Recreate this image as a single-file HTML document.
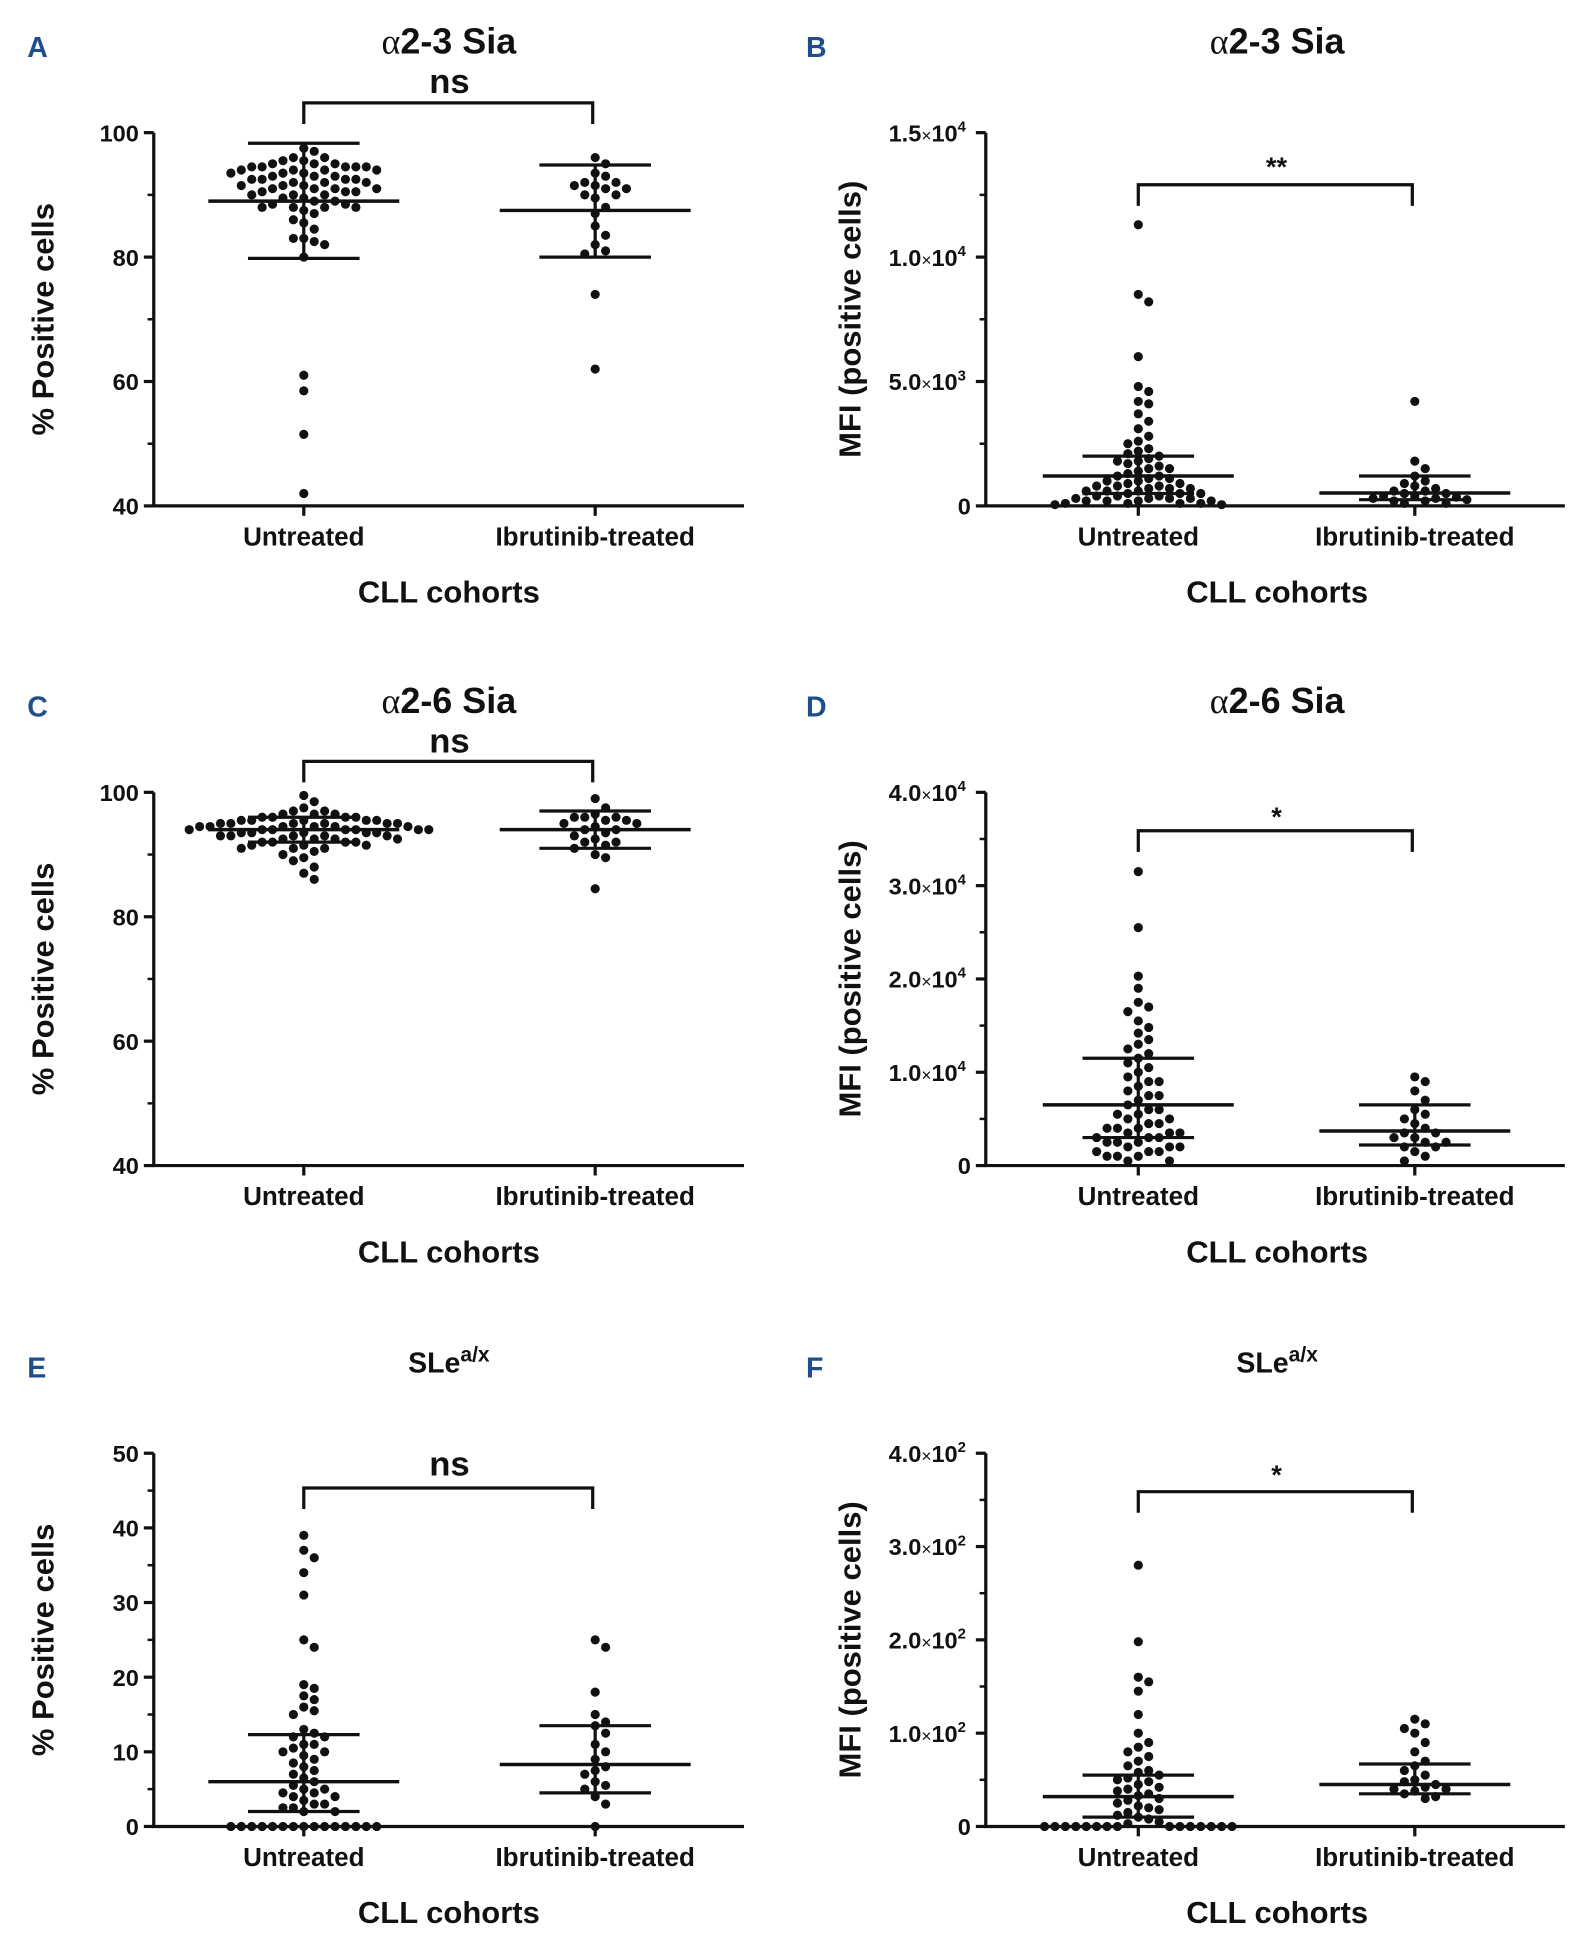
<!DOCTYPE html>
<html><head><meta charset="utf-8"><style>
html,body{margin:0;padding:0;background:#fff}
svg{display:block}
text{font-family:"Liberation Sans",sans-serif;font-weight:bold;fill:#111}
</style></head><body>
<svg id="fig" width="1576" height="1946" viewBox="0 0 1271 1569.4" xmlns="http://www.w3.org/2000/svg"></svg>
<script>
// ---- data ----
const categories = ["Untreated","Ibrutinib-treated"];
const aUnt = [97.5,97,96,96,95.5,95.5,95,95,95,94.5,94.5,94.5,94.5,94.5,94,94,94,94,93.5,93.5,93.5,93,93,93,92.5,92.5,92.5,92.5,92,92,92,91.5,91.5,91.5,91,91,91,91,90.5,90.5,90.5,90,90,90,89.5,89.5,89,89,88.5,88.5,88,88,88,88,87.5,87,86,85.5,84.5,83,83,82.5,82,80,61,58.5,51.5,42];
const aIbr = [96,95,93.5,93,92,92,91.5,91.5,91,91,90,90,89.5,88,87,85,83.5,82,81,80.5,74,62];
const aStats = [[89,79.8,98.3],[87.5,80,94.8]];
const bUnt = [11300,8500,8200,6000,4800,4600,4200,4100,3700,3400,3100,2800,2600,2500,2300,2200,2100,2000,1900,1800,1800,1700,1600,1500,1500,1400,1300,1200,1200,1100,1100,1000,1000,900,900,800,800,800,700,700,700,600,600,600,500,500,500,400,400,400,300,300,300,300,200,200,200,200,100,100,100,100,50,50];
const bIbr = [4200,1800,1500,1200,1000,900,800,700,600,600,500,500,400,400,350,300,300,250,200,200,100,100];
const bStats = [[1200,500,2000],[520,250,1200]];
const cUnt = [99.5,98.5,97.5,97,97,96.5,96.5,96.5,96,96,96,96,95.5,95.5,95.5,95.5,95.5,95,95,95,95,95,95,94.5,94.5,94.5,94.5,94.5,94.5,94,94,94,94,94,94,94,93.5,93.5,93.5,93.5,93.5,93,93,93,93,93,92.5,92.5,92.5,92.5,92,92,92,92,91.5,91.5,91.5,91,91,91,90.5,90,89.5,89,88,87,86];
const cIbr = [99,97.5,96.5,96,96,96,95.5,95.5,95,95,94.5,94,94,93.5,93,92.5,92,92,91.5,91,90,89.5,84.5];
const cStats = [[94,92,96],[94,91,97]];
const dUnt = [31500,25500,20300,19000,17500,17000,16500,15500,14800,14200,13500,13000,12500,12000,11500,11000,10500,10000,9500,9000,9000,8500,8000,7500,7500,7000,6500,6000,6000,5500,5500,5000,5000,4500,4500,4000,4000,4000,3500,3500,3500,3000,3000,3000,2500,2500,2500,2000,2000,2000,1500,1500,1500,1000,1000,1000,500,500];
const dIbr = [9500,9000,8000,7000,6000,5500,5000,4500,4000,3500,3500,3000,3000,2500,2500,2000,2000,1500,1000,500];
const dStats = [[6500,3000,11500],[3700,2200,6500]];
const eUnt = [39,37,36,34,31,25,24,19,18.5,17.5,17,16,15.5,15,13,12.5,12,12,11,11,10.5,10,10,9.5,9,8.5,8,7.5,7,6.5,6,5.5,5,5,4.5,4.5,4,4,3.5,3,3,2.5,2.5,2,2,0,0,0,0,0,0,0,0,0,0,0,0,0,0,0];
const eIbr = [25,24,18,15,14,13.5,12.5,11,10,9,8,7.5,7,6,5.5,5,4,3,0];
const eStats = [[6,2,12.3],[8.3,4.5,13.5]];
const fUnt = [280,198,160,155,145,120,100,90,85,80,75,70,65,60,58,55,52,50,48,45,42,40,38,35,33,30,28,25,22,20,18,15,12,10,8,5,3,0,0,0,0,0,0,0,0,0,0,0,0,0,0,0];
const fIbr = [115,110,105,100,90,80,70,65,60,55,50,48,45,42,40,40,38,35,32,30];
const fStats = [[32,10,55],[45,35,67]];
const pctTicks = [40,60,80,100];
const eTicks = [0,10,20,30,40,50];
const bTicks = [[0,"0"],[5000,"5.0","3"],[10000,"1.0","4"],[15000,"1.5","4"]];
const dTicks = [[0,"0"],[10000,"1.0","4"],[20000,"2.0","4"],[30000,"3.0","4"],[40000,"4.0","4"]];
const fTicks = [[0,"0"],[100,"1.0","2"],[200,"2.0","2"],[300,"3.0","2"],[400,"4.0","2"]];

const svg = document.getElementById('fig');
const NS = "http://www.w3.org/2000/svg";
function mk(tag, attrs, parent){const e=document.createElementNS(NS,tag);for(const k in attrs)e.setAttribute(k,attrs[k]);(parent||svg).appendChild(e);return e;}
function txt(s, x, y, size, anchor, parent){const t=mk('text',{x:x,y:y,'font-size':size,'text-anchor':anchor||'middle'},parent);t.textContent=s;return t;}

function panel(o){
  const g = mk('g',{});
  
  
  const ax=o.ax, right=ax+o.w, yTop=o.yTop, yBot=yTop+301;
  const ys = v => yBot - (v-o.min)/(o.max-o.min)*(yBot-yTop);
  const cx=[ax+o.c1, ax+o.c2];
  const L = txt(o.letter, o.lx, o.yTop-75+14, 23, 'start', g);
  L.setAttribute('style','fill:#1f4e8c');
  
  
  const T = txt('', o.tx, o.titleY, o.titleSize||29, 'middle', g);
  
  
  if(o.sle){T.textContent='SLe';const s=document.createElementNS(NS,'tspan');s.setAttribute('dy','-9');s.setAttribute('font-size','17');s.textContent='a/x';T.appendChild(s);}
  else{
    const a=document.createElementNS(NS,'tspan');a.setAttribute('font-weight','normal');a.setAttribute('font-family','Liberation Serif, serif');a.textContent='α';T.appendChild(a);
    const r=document.createElementNS(NS,'tspan');r.textContent=o.title;T.appendChild(r);
  }
  const axes = mk('path',{d:`M${ax},${yTop} V${yBot} H${right}`,stroke:'#111','stroke-width':2.6,fill:'none'},g);
  
  
  o.ticks.forEach((t,i)=>{
    const v = Array.isArray(t)?t[0]:t;
    const y = ys(v);
    mk('line',{x1:ax-8,x2:ax,y1:y,y2:y,stroke:'#111','stroke-width':2.6},g);
    const lab = txt('', ax-12, y+7, 19, 'end', g);
    
    
    if(Array.isArray(t) && t[2]){
      lab.textContent=t[1];
      const x=document.createElementNS(NS,'tspan');x.setAttribute('font-size','14');x.setAttribute('font-weight','normal');x.textContent='×';lab.appendChild(x);
      const d=document.createElementNS(NS,'tspan');d.textContent='10';lab.appendChild(d);
      const s=document.createElementNS(NS,'tspan');s.setAttribute('dy','-8');s.setAttribute('font-size','12');s.textContent=t[2];lab.appendChild(s);
      lab.setAttribute('x',ax-16);
    } else lab.textContent = Array.isArray(t)?t[1]:String(t);
    if(i<o.ticks.length-1){
      const v2 = Array.isArray(o.ticks[i+1])?o.ticks[i+1][0]:o.ticks[i+1];
      const ym = ys((v+v2)/2);
      mk('line',{x1:ax-5,x2:ax,y1:ym,y2:ym,stroke:'#111','stroke-width':2},g);
    }
  });
  categories.forEach((c,i)=>{
    mk('line',{x1:cx[i],x2:cx[i],y1:yBot,y2:yBot+8,stroke:'#111','stroke-width':2.6},g);
    const l=txt(c,cx[i],yBot+32,21,'middle',g);
    
    
  });
  const xt = txt('CLL  cohorts',o.tx,yBot+78,25,'middle',g);
  
  
  xt.setAttribute('xml:space','preserve');
  const yl = txt(o.ylab,0,0,25,'middle',g);
  yl.setAttribute('transform',`translate(${o.ylx},${(yTop+yBot)/2}) rotate(-90)`);
  
  
  yl.setAttribute('xml:space','preserve');
  const br = mk('path',{d:`M${cx[0]},${o.brY+17} V${o.brY} H${cx[1]-2} V${o.brY+17}`,stroke:'#111','stroke-width':2.6,fill:'none'},g);
  
  
  const sg = txt(o.sig,(cx[0]+cx[1])/2,o.sigY,o.sig==='ns'?28:22,'middle',g);
  
  
  [o.d1,o.d2].forEach((arr,gi)=>{
    const placed=[];
    const sorted=arr.slice().sort((a,b)=>b-a);
    sorted.forEach(v=>{
      const y=ys(v);
      let x=cx[gi];
      for(let k=0;k<200;k++){
        const off = k===0?0:(k%2?1:-1)*Math.ceil(k/2)*8.4;
        const xx=cx[gi]+off;
        if(placed.every(p=>Math.hypot(p[0]-xx,p[1]-y)>=7.6)){x=xx;break;}
      }
      placed.push([x,y]);
      const c=mk('circle',{cx:x,cy:y,r:3.7,fill:'#111'},g);
      
      
    });
    const st=o.stats[gi];
    const ym=ys(st[0]), yl2=ys(st[1]), yh=ys(st[2]);
    const m=mk('line',{x1:cx[gi]-77,x2:cx[gi]+77,y1:ym,y2:ym,stroke:'#111','stroke-width':2.8},g);
    
    
    const e=mk('path',{d:`M${cx[gi]},${yl2} V${yh} M${cx[gi]-45},${yh} H${cx[gi]+45} M${cx[gi]-45},${yl2} H${cx[gi]+45}`,stroke:'#111','stroke-width':2.6,fill:'none'},g);
    
    
  });
}
const PL="% Positive cells", ML="MFI (positive cells)";
const L0={ax:124,w:476,c1:121,c2:356,tx:362,lx:22,ylx:43,ylab:PL};
const R0={ax:795,w:467,c1:123,c2:346,tx:1030,lx:650,ylx:694,ylab:ML};
panel(Object.assign({},L0,{name:'panel-a',letter:'A',yTop:107,min:40,max:100,ticks:pctTicks,d1:aUnt,d2:aIbr,stats:aStats,title:'2-3 Sia',titleY:43,sig:'ns',sigY:75,brY:83}));
panel(Object.assign({},R0,{name:'panel-b',letter:'B',yTop:107,min:0,max:15000,ticks:bTicks,d1:bUnt,d2:bIbr,stats:bStats,title:'2-3 Sia',titleY:43,sig:'**',sigY:142,brY:149}));
panel(Object.assign({},L0,{name:'panel-c',letter:'C',yTop:639,min:40,max:100,ticks:pctTicks,d1:cUnt,d2:cIbr,stats:cStats,title:'2-6 Sia',titleY:575,sig:'ns',sigY:607,brY:614}));
panel(Object.assign({},R0,{name:'panel-d',letter:'D',yTop:639,min:0,max:40000,ticks:dTicks,d1:dUnt,d2:dIbr,stats:dStats,title:'2-6 Sia',titleY:575,sig:'*',sigY:666,brY:670}));
panel(Object.assign({},L0,{name:'panel-e',letter:'E',yTop:1172,min:0,max:50,ticks:eTicks,d1:eUnt,d2:eIbr,stats:eStats,sle:true,titleSize:23,titleY:1107,sig:'ns',sigY:1190,brY:1200}));
panel(Object.assign({},R0,{name:'panel-f',letter:'F',yTop:1172,min:0,max:400,ticks:fTicks,d1:fUnt,d2:fIbr,stats:fStats,sle:true,titleSize:23,titleY:1107,sig:'*',sigY:1197,brY:1203}));
</script>
</body></html>
